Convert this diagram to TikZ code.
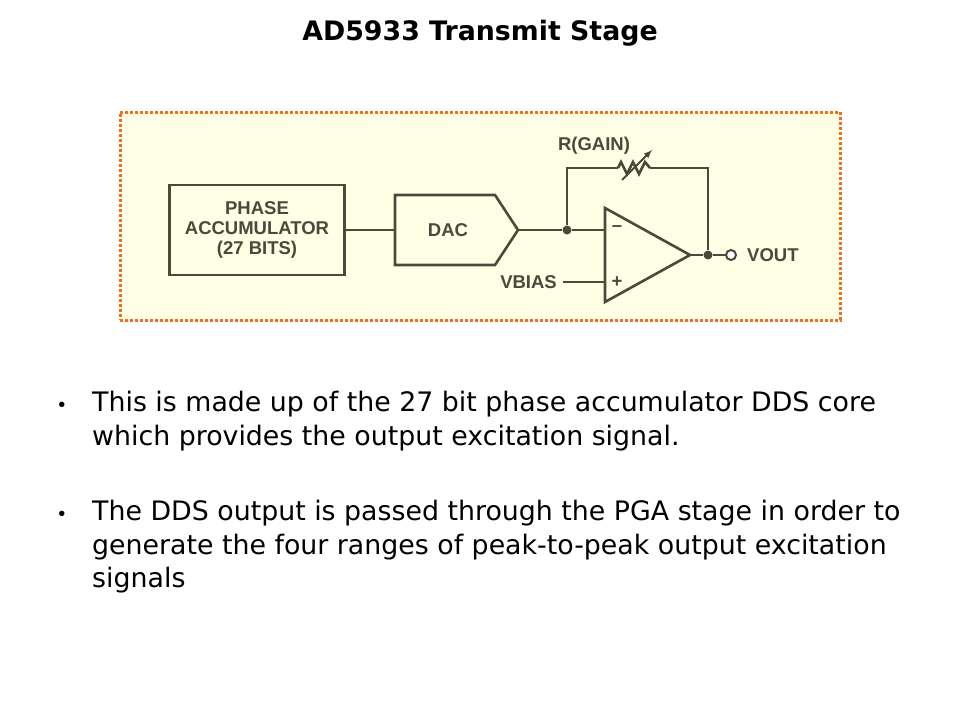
\documentclass[tikz,border=0pt]{standalone}
\usepackage{fontspec}
\setmainfont{Liberation Sans}
\newfontfamily\dv{DejaVu Sans}
\begin{document}
\begin{tikzpicture}[x=1pt,y=-1pt,
  ln/.style={draw=lc,line width=2.6pt},
  lbl/.style={font=\fontsize{18.5}{20}\bfseries\selectfont,text=lc,inner sep=0pt},
  body/.style={font=\dv\fontsize{26.8}{33.5}\selectfont,align=left,inner sep=0pt},
  dot/.style={circle,fill=lc,inner sep=0pt,minimum size=9pt}]
\definecolor{lc}{HTML}{4A4A3C}
\definecolor{bg}{HTML}{FFFFE6}
\definecolor{fr}{HTML}{F07020}
\useasboundingbox (0,0) rectangle (960,720);
\node[font=\dv\fontsize{26.8}{30}\bfseries\selectfont] (title) at (480,33) {AD5933 Transmit Stage};
\node[draw=fr,fill=bg,dotted,line width=3pt,minimum width=720pt,minimum height=208pt,inner sep=0pt] (frame) at (480,216) {};
\node[ln,minimum width=175pt,minimum height=90pt,align=center,lbl,inner sep=0pt] (pa) at (257,230) {PHASE\\ACCUMULATOR\\(27 BITS)};
\draw[ln] (395,195) -- (495,195) -- (518,230) -- (495,265) -- (395,265) -- cycle;
\node[lbl] (dac) at (448,230) {DAC};
\coordinate (dacin) at (395,230);
\coordinate (dacout) at (518,230);
\draw[ln] (pa.east) -- (dacin);
\draw[ln] (605,208) -- (690,255) -- (605,302) -- cycle;
\coordinate (inm) at (605,230);
\coordinate (inp) at (605,282);
\node[dot] (j1) at (567,230) {};
\node[dot] (j2) at (708,255) {};
\node[circle,draw=lc,line width=2pt,fill=white,inner sep=0pt,minimum size=10pt] (vo) at (731,255) {};
\draw[ln] (dacout) -- (j1) -- (inm);
\draw[ln] (690,255) -- (j2) -- (vo);
\coordinate (r1) at (618,168);
\coordinate (r2) at (650,168);
\draw[ln] (j1) -- (567,168) -- (r1);
\draw[ln] (r1) -- (621,162) -- (627,174) -- (633,162) -- (639,174) -- (645,162) -- (r2);
\draw[ln] (r2) -- (708,168) -- (j2);
\draw[draw=lc,line width=1.8pt,-latex] (622,180) -- (652,150);
\node[lbl] (rg) at (594,146) {R(GAIN)};
\node[lbl,anchor=west] (vout) at (747,255) {VOUT};
\node[lbl,anchor=east] (vbias) at (557,282) {VBIAS};
\draw[ln] (vbias.east) ++(6,0) -- (inp);
\node[lbl] (mn) at (617,229) {--};
\node[lbl] (pl) at (617,282) {+};
\node[font=\fontsize{20}{20}\selectfont] (b1) at (62,407) {\textbullet};
\node[body,anchor=north west] (t1) at (92,391) {This is made up of the 27 bit phase accumulator DDS core\\which provides the output excitation signal.};
\node[font=\fontsize{20}{20}\selectfont] (b2) at (62,516) {\textbullet};
\node[body,anchor=north west] (t2) at (92,500) {The DDS output is passed through the PGA stage in order to\\generate the four ranges of peak-to-peak output excitation\\signals};
\end{tikzpicture}
\end{document}
